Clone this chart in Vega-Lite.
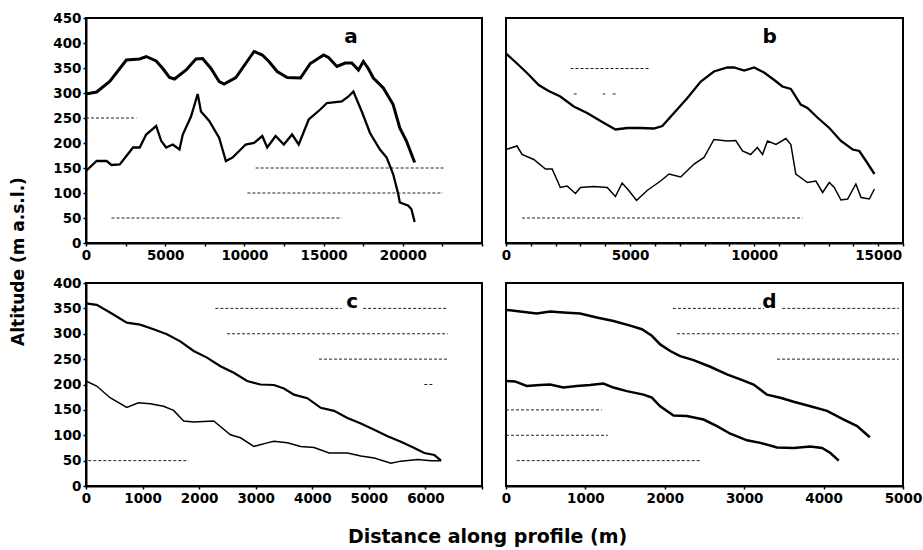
{
  "$schema": "https://vega.github.io/schema/vega-lite/v6.json",
  "padding": {"left": 8, "top": 10, "right": 5, "bottom": 5},
  "background": "white",
  "datasets": {
    "profiles": [
      {"p":"a","s":"upper","x":0,"y":298},{"p":"a","s":"upper","x":670,"y":302},{"p":"a","s":"upper","x":1500,"y":323},{"p":"a","s":"upper","x":2550,"y":366},{"p":"a","s":"upper","x":3390,"y":368},{"p":"a","s":"upper","x":3800,"y":373},{"p":"a","s":"upper","x":4430,"y":364},{"p":"a","s":"upper","x":4850,"y":349},{"p":"a","s":"upper","x":5270,"y":331},{"p":"a","s":"upper","x":5590,"y":328},{"p":"a","s":"upper","x":6320,"y":346},{"p":"a","s":"upper","x":6940,"y":368},{"p":"a","s":"upper","x":7360,"y":369},{"p":"a","s":"upper","x":7890,"y":349},{"p":"a","s":"upper","x":8410,"y":323},{"p":"a","s":"upper","x":8720,"y":318},{"p":"a","s":"upper","x":9460,"y":331},{"p":"a","s":"upper","x":10080,"y":359},{"p":"a","s":"upper","x":10610,"y":383},{"p":"a","s":"upper","x":11130,"y":376},{"p":"a","s":"upper","x":11550,"y":363},{"p":"a","s":"upper","x":12070,"y":343},{"p":"a","s":"upper","x":12700,"y":331},{"p":"a","s":"upper","x":13540,"y":330},{"p":"a","s":"upper","x":14160,"y":359},{"p":"a","s":"upper","x":15000,"y":376},{"p":"a","s":"upper","x":15310,"y":371},{"p":"a","s":"upper","x":15840,"y":353},{"p":"a","s":"upper","x":16360,"y":360},{"p":"a","s":"upper","x":16780,"y":360},{"p":"a","s":"upper","x":17200,"y":346},{"p":"a","s":"upper","x":17510,"y":363},{"p":"a","s":"upper","x":17820,"y":349},{"p":"a","s":"upper","x":18140,"y":330},{"p":"a","s":"upper","x":18770,"y":310},{"p":"a","s":"upper","x":19390,"y":277},{"p":"a","s":"upper","x":19810,"y":230},{"p":"a","s":"upper","x":20230,"y":204},{"p":"a","s":"upper","x":20750,"y":161},
      {"p":"a","s":"lower","x":0,"y":144},{"p":"a","s":"lower","x":670,"y":164},{"p":"a","s":"lower","x":1300,"y":164},{"p":"a","s":"lower","x":1610,"y":156},{"p":"a","s":"lower","x":2130,"y":157},{"p":"a","s":"lower","x":2550,"y":174},{"p":"a","s":"lower","x":2970,"y":191},{"p":"a","s":"lower","x":3390,"y":191},{"p":"a","s":"lower","x":3800,"y":217},{"p":"a","s":"lower","x":4430,"y":234},{"p":"a","s":"lower","x":4750,"y":204},{"p":"a","s":"lower","x":5060,"y":191},{"p":"a","s":"lower","x":5480,"y":197},{"p":"a","s":"lower","x":5900,"y":187},{"p":"a","s":"lower","x":6110,"y":217},{"p":"a","s":"lower","x":6630,"y":253},{"p":"a","s":"lower","x":7050,"y":298},{"p":"a","s":"lower","x":7260,"y":263},{"p":"a","s":"lower","x":7780,"y":244},{"p":"a","s":"lower","x":8410,"y":210},{"p":"a","s":"lower","x":8830,"y":164},{"p":"a","s":"lower","x":9250,"y":171},{"p":"a","s":"lower","x":9670,"y":184},{"p":"a","s":"lower","x":10080,"y":197},{"p":"a","s":"lower","x":10610,"y":200},{"p":"a","s":"lower","x":11130,"y":214},{"p":"a","s":"lower","x":11440,"y":191},{"p":"a","s":"lower","x":11970,"y":214},{"p":"a","s":"lower","x":12490,"y":197},{"p":"a","s":"lower","x":13010,"y":217},{"p":"a","s":"lower","x":13430,"y":197},{"p":"a","s":"lower","x":14060,"y":247},{"p":"a","s":"lower","x":14790,"y":267},{"p":"a","s":"lower","x":15210,"y":280},{"p":"a","s":"lower","x":16150,"y":283},{"p":"a","s":"lower","x":16570,"y":293},{"p":"a","s":"lower","x":16880,"y":303},{"p":"a","s":"lower","x":17410,"y":263},{"p":"a","s":"lower","x":17930,"y":220},{"p":"a","s":"lower","x":18560,"y":187},{"p":"a","s":"lower","x":18980,"y":171},{"p":"a","s":"lower","x":19390,"y":138},{"p":"a","s":"lower","x":19710,"y":98},{"p":"a","s":"lower","x":19810,"y":81},{"p":"a","s":"lower","x":20330,"y":75},{"p":"a","s":"lower","x":20540,"y":68},{"p":"a","s":"lower","x":20750,"y":42},
      {"p":"b","s":"upper","x":0,"y":379},{"p":"b","s":"upper","x":444,"y":359},{"p":"b","s":"upper","x":848,"y":340},{"p":"b","s":"upper","x":1320,"y":316},{"p":"b","s":"upper","x":1720,"y":304},{"p":"b","s":"upper","x":2190,"y":293},{"p":"b","s":"upper","x":2730,"y":273},{"p":"b","s":"upper","x":3270,"y":260},{"p":"b","s":"upper","x":3810,"y":244},{"p":"b","s":"upper","x":4410,"y":227},{"p":"b","s":"upper","x":4890,"y":230},{"p":"b","s":"upper","x":5420,"y":230},{"p":"b","s":"upper","x":5960,"y":229},{"p":"b","s":"upper","x":6300,"y":234},{"p":"b","s":"upper","x":6770,"y":260},{"p":"b","s":"upper","x":7310,"y":290},{"p":"b","s":"upper","x":7850,"y":323},{"p":"b","s":"upper","x":8380,"y":343},{"p":"b","s":"upper","x":8920,"y":351},{"p":"b","s":"upper","x":9190,"y":351},{"p":"b","s":"upper","x":9600,"y":345},{"p":"b","s":"upper","x":10000,"y":351},{"p":"b","s":"upper","x":10400,"y":341},{"p":"b","s":"upper","x":10810,"y":326},{"p":"b","s":"upper","x":11140,"y":313},{"p":"b","s":"upper","x":11480,"y":308},{"p":"b","s":"upper","x":11880,"y":277},{"p":"b","s":"upper","x":12150,"y":270},{"p":"b","s":"upper","x":12550,"y":251},{"p":"b","s":"upper","x":13030,"y":230},{"p":"b","s":"upper","x":13500,"y":204},{"p":"b","s":"upper","x":13970,"y":187},{"p":"b","s":"upper","x":14240,"y":184},{"p":"b","s":"upper","x":14510,"y":164},{"p":"b","s":"upper","x":14850,"y":138},
      {"p":"b","s":"lower","x":0,"y":187},{"p":"b","s":"lower","x":444,"y":194},{"p":"b","s":"lower","x":646,"y":177},{"p":"b","s":"lower","x":1120,"y":167},{"p":"b","s":"lower","x":1590,"y":148},{"p":"b","s":"lower","x":1860,"y":148},{"p":"b","s":"lower","x":2190,"y":111},{"p":"b","s":"lower","x":2460,"y":114},{"p":"b","s":"lower","x":2800,"y":99},{"p":"b","s":"lower","x":3000,"y":111},{"p":"b","s":"lower","x":3540,"y":113},{"p":"b","s":"lower","x":4080,"y":111},{"p":"b","s":"lower","x":4410,"y":93},{"p":"b","s":"lower","x":4680,"y":120},{"p":"b","s":"lower","x":4950,"y":105},{"p":"b","s":"lower","x":5260,"y":85},{"p":"b","s":"lower","x":5690,"y":105},{"p":"b","s":"lower","x":6230,"y":124},{"p":"b","s":"lower","x":6570,"y":138},{"p":"b","s":"lower","x":7040,"y":132},{"p":"b","s":"lower","x":7580,"y":158},{"p":"b","s":"lower","x":7980,"y":171},{"p":"b","s":"lower","x":8380,"y":207},{"p":"b","s":"lower","x":8920,"y":204},{"p":"b","s":"lower","x":9260,"y":205},{"p":"b","s":"lower","x":9530,"y":184},{"p":"b","s":"lower","x":9860,"y":177},{"p":"b","s":"lower","x":10130,"y":191},{"p":"b","s":"lower","x":10340,"y":177},{"p":"b","s":"lower","x":10540,"y":204},{"p":"b","s":"lower","x":10880,"y":197},{"p":"b","s":"lower","x":11280,"y":209},{"p":"b","s":"lower","x":11480,"y":197},{"p":"b","s":"lower","x":11680,"y":138},{"p":"b","s":"lower","x":12150,"y":121},{"p":"b","s":"lower","x":12490,"y":124},{"p":"b","s":"lower","x":12760,"y":101},{"p":"b","s":"lower","x":13030,"y":121},{"p":"b","s":"lower","x":13230,"y":111},{"p":"b","s":"lower","x":13500,"y":86},{"p":"b","s":"lower","x":13770,"y":88},{"p":"b","s":"lower","x":14100,"y":118},{"p":"b","s":"lower","x":14310,"y":91},{"p":"b","s":"lower","x":14640,"y":88},{"p":"b","s":"lower","x":14850,"y":108},
      {"p":"c","s":"upper","x":0,"y":360},{"p":"c","s":"upper","x":189,"y":357},{"p":"c","s":"upper","x":425,"y":342},{"p":"c","s":"upper","x":721,"y":322},{"p":"c","s":"upper","x":957,"y":318},{"p":"c","s":"upper","x":1194,"y":309},{"p":"c","s":"upper","x":1430,"y":299},{"p":"c","s":"upper","x":1667,"y":285},{"p":"c","s":"upper","x":1903,"y":266},{"p":"c","s":"upper","x":2139,"y":253},{"p":"c","s":"upper","x":2376,"y":236},{"p":"c","s":"upper","x":2612,"y":223},{"p":"c","s":"upper","x":2849,"y":207},{"p":"c","s":"upper","x":3085,"y":200},{"p":"c","s":"upper","x":3322,"y":199},{"p":"c","s":"upper","x":3499,"y":192},{"p":"c","s":"upper","x":3676,"y":180},{"p":"c","s":"upper","x":3913,"y":173},{"p":"c","s":"upper","x":4149,"y":154},{"p":"c","s":"upper","x":4385,"y":148},{"p":"c","s":"upper","x":4622,"y":134},{"p":"c","s":"upper","x":4858,"y":123},{"p":"c","s":"upper","x":5095,"y":111},{"p":"c","s":"upper","x":5331,"y":98},{"p":"c","s":"upper","x":5567,"y":87},{"p":"c","s":"upper","x":5804,"y":75},{"p":"c","s":"upper","x":5981,"y":65},{"p":"c","s":"upper","x":6158,"y":61},{"p":"c","s":"upper","x":6277,"y":50},
      {"p":"c","s":"lower","x":0,"y":207},{"p":"c","s":"lower","x":189,"y":197},{"p":"c","s":"lower","x":425,"y":174},{"p":"c","s":"lower","x":721,"y":155},{"p":"c","s":"lower","x":928,"y":164},{"p":"c","s":"lower","x":1135,"y":162},{"p":"c","s":"lower","x":1371,"y":157},{"p":"c","s":"lower","x":1548,"y":149},{"p":"c","s":"lower","x":1726,"y":128},{"p":"c","s":"lower","x":1903,"y":126},{"p":"c","s":"lower","x":2258,"y":128},{"p":"c","s":"lower","x":2553,"y":101},{"p":"c","s":"lower","x":2731,"y":95},{"p":"c","s":"lower","x":2967,"y":78},{"p":"c","s":"lower","x":3203,"y":85},{"p":"c","s":"lower","x":3322,"y":88},{"p":"c","s":"lower","x":3558,"y":85},{"p":"c","s":"lower","x":3794,"y":78},{"p":"c","s":"lower","x":4031,"y":76},{"p":"c","s":"lower","x":4297,"y":65},{"p":"c","s":"lower","x":4622,"y":65},{"p":"c","s":"lower","x":4858,"y":59},{"p":"c","s":"lower","x":5095,"y":55},{"p":"c","s":"lower","x":5390,"y":45},{"p":"c","s":"lower","x":5567,"y":49},{"p":"c","s":"lower","x":5863,"y":52},{"p":"c","s":"lower","x":6099,"y":50},{"p":"c","s":"lower","x":6277,"y":50},
      {"p":"d","s":"upper","x":0,"y":347},{"p":"d","s":"upper","x":177,"y":344},{"p":"d","s":"upper","x":387,"y":340},{"p":"d","s":"upper","x":555,"y":344},{"p":"d","s":"upper","x":723,"y":342},{"p":"d","s":"upper","x":933,"y":340},{"p":"d","s":"upper","x":1143,"y":332},{"p":"d","s":"upper","x":1353,"y":325},{"p":"d","s":"upper","x":1564,"y":316},{"p":"d","s":"upper","x":1711,"y":309},{"p":"d","s":"upper","x":1837,"y":296},{"p":"d","s":"upper","x":1942,"y":279},{"p":"d","s":"upper","x":2068,"y":266},{"p":"d","s":"upper","x":2194,"y":256},{"p":"d","s":"upper","x":2362,"y":248},{"p":"d","s":"upper","x":2573,"y":235},{"p":"d","s":"upper","x":2783,"y":220},{"p":"d","s":"upper","x":2951,"y":210},{"p":"d","s":"upper","x":3119,"y":200},{"p":"d","s":"upper","x":3287,"y":180},{"p":"d","s":"upper","x":3455,"y":174},{"p":"d","s":"upper","x":3623,"y":166},{"p":"d","s":"upper","x":3833,"y":157},{"p":"d","s":"upper","x":4044,"y":148},{"p":"d","s":"upper","x":4254,"y":131},{"p":"d","s":"upper","x":4422,"y":118},{"p":"d","s":"upper","x":4582,"y":96},
      {"p":"d","s":"lower","x":0,"y":207},{"p":"d","s":"lower","x":113,"y":206},{"p":"d","s":"lower","x":261,"y":197},{"p":"d","s":"lower","x":429,"y":199},{"p":"d","s":"lower","x":555,"y":200},{"p":"d","s":"lower","x":723,"y":194},{"p":"d","s":"lower","x":891,"y":197},{"p":"d","s":"lower","x":1059,"y":199},{"p":"d","s":"lower","x":1227,"y":202},{"p":"d","s":"lower","x":1353,"y":194},{"p":"d","s":"lower","x":1522,"y":187},{"p":"d","s":"lower","x":1732,"y":180},{"p":"d","s":"lower","x":1837,"y":174},{"p":"d","s":"lower","x":1942,"y":157},{"p":"d","s":"lower","x":2110,"y":139},{"p":"d","s":"lower","x":2278,"y":138},{"p":"d","s":"lower","x":2488,"y":131},{"p":"d","s":"lower","x":2657,"y":118},{"p":"d","s":"lower","x":2825,"y":103},{"p":"d","s":"lower","x":3035,"y":90},{"p":"d","s":"lower","x":3203,"y":85},{"p":"d","s":"lower","x":3413,"y":76},{"p":"d","s":"lower","x":3623,"y":75},{"p":"d","s":"lower","x":3833,"y":78},{"p":"d","s":"lower","x":3981,"y":75},{"p":"d","s":"lower","x":4086,"y":65},{"p":"d","s":"lower","x":4191,"y":50}
    ],
    "grid": [
      {"p":"a","x":0,"x2":3180,"y":250},{"p":"a","x":10710,"x2":22640,"y":150},{"p":"a","x":10190,"x2":22530,"y":100},{"p":"a","x":1610,"x2":16150,"y":50},
      {"p":"b","x":2600,"x2":5760,"y":349},{"p":"b","x":2730,"x2":2850,"y":298},{"p":"b","x":3900,"x2":4000,"y":298},{"p":"b","x":4300,"x2":4450,"y":298},{"p":"b","x":646,"x2":11950,"y":50},
      {"p":"c","x":2287,"x2":4520,"y":350},{"p":"c","x":4900,"x2":6395,"y":350},{"p":"c","x":2494,"x2":6395,"y":300},{"p":"c","x":4119,"x2":6395,"y":250},{"p":"c","x":5981,"x2":6158,"y":200},{"p":"c","x":41,"x2":1814,"y":50},
      {"p":"d","x":2102,"x2":3250,"y":350},{"p":"d","x":3480,"x2":4947,"y":350},{"p":"d","x":2152,"x2":4947,"y":300},{"p":"d","x":3413,"x2":4947,"y":250},{"p":"d","x":0,"x2":1206,"y":150},{"p":"d","x":0,"x2":1282,"y":100},{"p":"d","x":135,"x2":2467,"y":50}
    ],
    "letters": [
      {"p":"a","t":"a","x":16730,"y":400},
      {"p":"b","t":"b","x":10625,"y":400},
      {"p":"c","t":"c","x":4707,"y":350},
      {"p":"d","t":"d","x":3316,"y":351}
    ]
  },
  "columns": 2,
  "spacing": {"row": 40, "column": 24},
  "bounds": "flush",
  "concat": [
    {
      "width": 396, "height": 225,
      "encoding": {
        "x": {"field": "x", "type": "quantitative", "scale": {"domain": [0, 25000], "nice": false, "zero": false},
              "axis": {"title": null, "values": [0,2500,5000,7500,10000,12500,15000,17500,20000,22500,25000], "format": "d",
                       "labelExpr": "datum.value % 5000 === 0 && datum.value < 25000 ? datum.label : ''"}},
        "y": {"field": "y", "type": "quantitative", "scale": {"domain": [0, 450], "nice": false},
              "axis": {"title": "Altitude (m a.s.l.)", "values": [0,50,100,150,200,250,300,350,400,450],
                       "titleFontSize": 17, "titleX": -67.5, "titleY": 243, "titleBaseline": "middle", "titleAngle": -90}}
      },
      "layer": [
        {"data": {"name": "grid"}, "transform": [{"filter": "datum.p === 'a'"}],
         "mark": {"type": "rule", "color": "#222", "strokeWidth": 1, "strokeDash": [3, 2]},
         "encoding": {"x2": {"field": "x2"}}},
        {"data": {"name": "profiles"}, "transform": [{"filter": "datum.p === 'a' && datum.s === 'upper'"}],
         "mark": {"type": "line", "color": "black", "strokeWidth": 3}},
        {"data": {"name": "profiles"}, "transform": [{"filter": "datum.p === 'a' && datum.s === 'lower'"}],
         "mark": {"type": "line", "color": "black", "strokeWidth": 2.3}},
        {"data": {"name": "letters"}, "transform": [{"filter": "datum.p === 'a'"}],
         "mark": {"type": "text", "fontSize": 20, "fontWeight": "bold", "baseline": "alphabetic", "align": "center", "color": "black"},
         "encoding": {"text": {"field": "t"}}}
      ]
    },
    {
      "width": 397, "height": 225,
      "encoding": {
        "x": {"field": "x", "type": "quantitative", "scale": {"domain": [0, 16000], "nice": false, "zero": false},
              "axis": {"title": null, "values": [0,1000,2000,3000,4000,5000,6000,7000,8000,9000,10000,11000,12000,13000,14000,15000,16000], "format": "d",
                       "labelExpr": "datum.value % 5000 === 0 ? datum.label : ''"}},
        "y": {"field": "y", "type": "quantitative", "scale": {"domain": [0, 450], "nice": false}, "axis": null}
      },
      "layer": [
        {"data": {"name": "grid"}, "transform": [{"filter": "datum.p === 'b'"}],
         "mark": {"type": "rule", "color": "#222", "strokeWidth": 1, "strokeDash": [3, 2]},
         "encoding": {"x2": {"field": "x2"}}},
        {"data": {"name": "profiles"}, "transform": [{"filter": "datum.p === 'b' && datum.s === 'upper'"}],
         "mark": {"type": "line", "color": "black", "strokeWidth": 2.3}},
        {"data": {"name": "profiles"}, "transform": [{"filter": "datum.p === 'b' && datum.s === 'lower'"}],
         "mark": {"type": "line", "color": "black", "strokeWidth": 1.5}},
        {"data": {"name": "letters"}, "transform": [{"filter": "datum.p === 'b'"}],
         "mark": {"type": "text", "fontSize": 20, "fontWeight": "bold", "baseline": "alphabetic", "align": "center", "color": "black"},
         "encoding": {"text": {"field": "t"}}}
      ]
    },
    {
      "width": 396, "height": 203,
      "encoding": {
        "x": {"field": "x", "type": "quantitative", "scale": {"domain": [0, 7000], "nice": false, "zero": false},
              "axis": {"title": "Distance along profile (m)", "values": [0,1000,2000,3000,4000,5000,6000,7000], "format": "d",
                       "labelExpr": "datum.value < 7000 ? datum.label : ''",
                       "titleFontSize": 19, "titleX": 401, "titleY": 50, "titleBaseline": "middle", "titleAlign": "center"}},
        "y": {"field": "y", "type": "quantitative", "scale": {"domain": [0, 400], "nice": false},
              "axis": {"title": null, "values": [0,50,100,150,200,250,300,350,400]}}
      },
      "layer": [
        {"data": {"name": "grid"}, "transform": [{"filter": "datum.p === 'c'"}],
         "mark": {"type": "rule", "color": "#222", "strokeWidth": 1, "strokeDash": [3, 2]},
         "encoding": {"x2": {"field": "x2"}}},
        {"data": {"name": "profiles"}, "transform": [{"filter": "datum.p === 'c' && datum.s === 'upper'"}],
         "mark": {"type": "line", "color": "black", "strokeWidth": 2.2}},
        {"data": {"name": "profiles"}, "transform": [{"filter": "datum.p === 'c' && datum.s === 'lower'"}],
         "mark": {"type": "line", "color": "black", "strokeWidth": 1.5}},
        {"data": {"name": "letters"}, "transform": [{"filter": "datum.p === 'c'"}],
         "mark": {"type": "text", "fontSize": 20, "fontWeight": "bold", "baseline": "alphabetic", "align": "center", "color": "black"},
         "encoding": {"text": {"field": "t"}}}
      ]
    },
    {
      "width": 397, "height": 203,
      "encoding": {
        "x": {"field": "x", "type": "quantitative", "scale": {"domain": [0, 5000], "nice": false, "zero": false},
              "axis": {"title": null, "values": [0,1000,2000,3000,4000,5000], "format": "d"}},
        "y": {"field": "y", "type": "quantitative", "scale": {"domain": [0, 400], "nice": false}, "axis": null}
      },
      "layer": [
        {"data": {"name": "grid"}, "transform": [{"filter": "datum.p === 'd'"}],
         "mark": {"type": "rule", "color": "#222", "strokeWidth": 1, "strokeDash": [3, 2]},
         "encoding": {"x2": {"field": "x2"}}},
        {"data": {"name": "profiles"}, "transform": [{"filter": "datum.p === 'd' && datum.s === 'upper'"}],
         "mark": {"type": "line", "color": "black", "strokeWidth": 2.5}},
        {"data": {"name": "profiles"}, "transform": [{"filter": "datum.p === 'd' && datum.s === 'lower'"}],
         "mark": {"type": "line", "color": "black", "strokeWidth": 2.5}},
        {"data": {"name": "letters"}, "transform": [{"filter": "datum.p === 'd'"}],
         "mark": {"type": "text", "fontSize": 20, "fontWeight": "bold", "baseline": "alphabetic", "align": "center", "color": "black"},
         "encoding": {"text": {"field": "t"}}}
      ]
    }
  ],
  "config": {
    "font": "DejaVu Sans",
    "view": {"stroke": "black", "strokeWidth": 2},
    "axis": {
      "labelFont": "DejaVu Sans", "labelFontWeight": "bold", "labelFontSize": 13.5, "labelColor": "black",
      "titleFont": "DejaVu Sans", "titleFontWeight": "bold", "titleColor": "black",
      "domainColor": "black", "domainWidth": 2, "tickColor": "black", "tickWidth": 1.5, "tickSize": 3,
      "grid": false, "labelOverlap": false, "labelFlush": false, "labelBound": false, "labelPadding": 2
    }
  }
}
